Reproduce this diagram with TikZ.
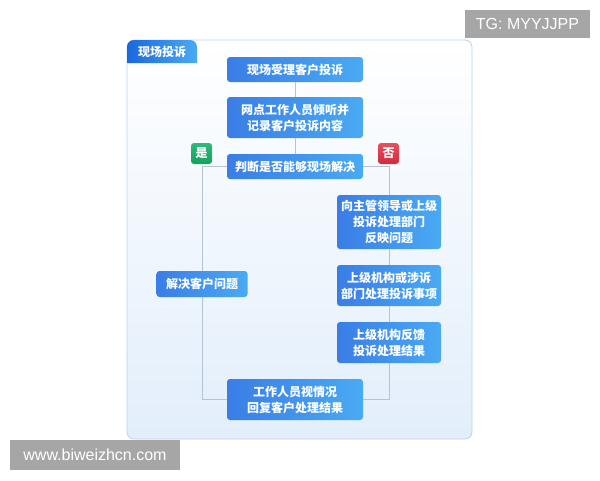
\documentclass[tikz,border=0pt]{standalone}
\usepackage{fontspec}
\setmainfont{Liberation Sans}
\newfontfamily\cjk{Noto Sans CJK SC}
\definecolor{boxL}{HTML}{3A7DE6}
\definecolor{boxR}{HTML}{4AAAF3}
\definecolor{lineC}{HTML}{B3C4D3}
\definecolor{panelBorder}{HTML}{B9D4EA}
\definecolor{panelBot}{HTML}{E2EEFB}
\definecolor{tabL}{HTML}{1A68DF}
\definecolor{greenL}{HTML}{17A05E}
\definecolor{greenR}{HTML}{2FB97A}
\definecolor{redL}{HTML}{D02A3E}
\definecolor{redR}{HTML}{E5505F}
\definecolor{wmGray}{HTML}{A6A6A6}
\tikzset{
  flowbox/.style={rounded corners=3pt, left color=boxL, right color=boxR, draw=none,
    text=white, inner sep=0pt, align=center,
    font=\cjk\bfseries\fontsize{12}{16}\selectfont},
  badge/.style={rounded corners=3pt, draw=none, text=white, inner sep=0pt,
    minimum width=21pt, minimum height=21pt, font=\cjk\bfseries\fontsize{12}{14}\selectfont},
  conn/.style={draw=lineC, line width=1pt},
  wmark/.style={fill=wmGray, text=white, inner sep=0pt, font=\fontsize{16}{18}\selectfont}
}
\begin{document}
\begin{tikzpicture}[x=1pt,y=-1pt]
\useasboundingbox (0,0) rectangle (600,480);
% panel
\path[draw=panelBorder, line width=0.8pt, rounded corners=7pt, top color=white, bottom color=panelBot]
  (127,40) rectangle (472,439);
\path[rounded corners=7pt, left color=tabL, right color=boxR]
  (127,63) -- (127,40) -- (197,40) [sharp corners] -- (197,63) -- cycle;
\node[text=white, font=\cjk\bfseries\fontsize{12}{14}\selectfont] (title) at (162,51.5) {现场投诉};
% main column
\node[flowbox, minimum width=136pt, minimum height=25pt] (b1) at (295,69.5) {现场受理客户投诉};
\node[flowbox, minimum width=136pt, minimum height=41pt] (b2) at (295,117.5) {网点工作人员倾听并\\记录客户投诉内容};
\node[flowbox, minimum width=136pt, minimum height=25pt] (b3) at (295,166.5) {判断是否能够现场解决};
\node[flowbox, minimum width=104pt, minimum height=54pt] (r1) at (389,222) {向主管领导或上级\\投诉处理部门\\反映问题};
\node[flowbox, minimum width=104pt, minimum height=41pt] (r2) at (389,285.5) {上级机构或涉诉\\部门处理投诉事项};
\node[flowbox, minimum width=104pt, minimum height=41pt] (r3) at (389,342.5) {上级机构反馈\\投诉处理结果};
\node[flowbox, minimum width=91pt, minimum height=26pt] (l1) at (202,284) {解决客户问题};
\node[flowbox, minimum width=136pt, minimum height=41pt] (b4) at (295,399.5) {工作人员视情况\\回复客户处理结果};
% badges
\node[badge, top color=greenR, bottom color=greenL] (yes) at (201.5,153.5) {是};
\node[badge, top color=redR, bottom color=redL] (no) at (388.5,153.5) {否};
% connectors
\draw[conn] (b1.south) -- (b2.north);
\draw[conn] (b2.south) -- (b3.north);
\draw[conn] (b3.west) -| (l1.north);
\draw[conn] (l1.south) |- (b4.west);
\draw[conn] (b3.east) -| (r1.north);
\draw[conn] (r1.south) -- (r2.north);
\draw[conn] (r2.south) -- (r3.north);
\draw[conn] (r3.south) |- (b4.east);
% watermarks
\node[wmark, minimum width=125pt, minimum height=28pt] (wm1) at (527.5,24) {TG: MYYJJPP};
\node[wmark, minimum width=170pt, minimum height=30pt] (wm2) at (95,455) {www.biweizhcn.com};
\end{tikzpicture}
\end{document}
